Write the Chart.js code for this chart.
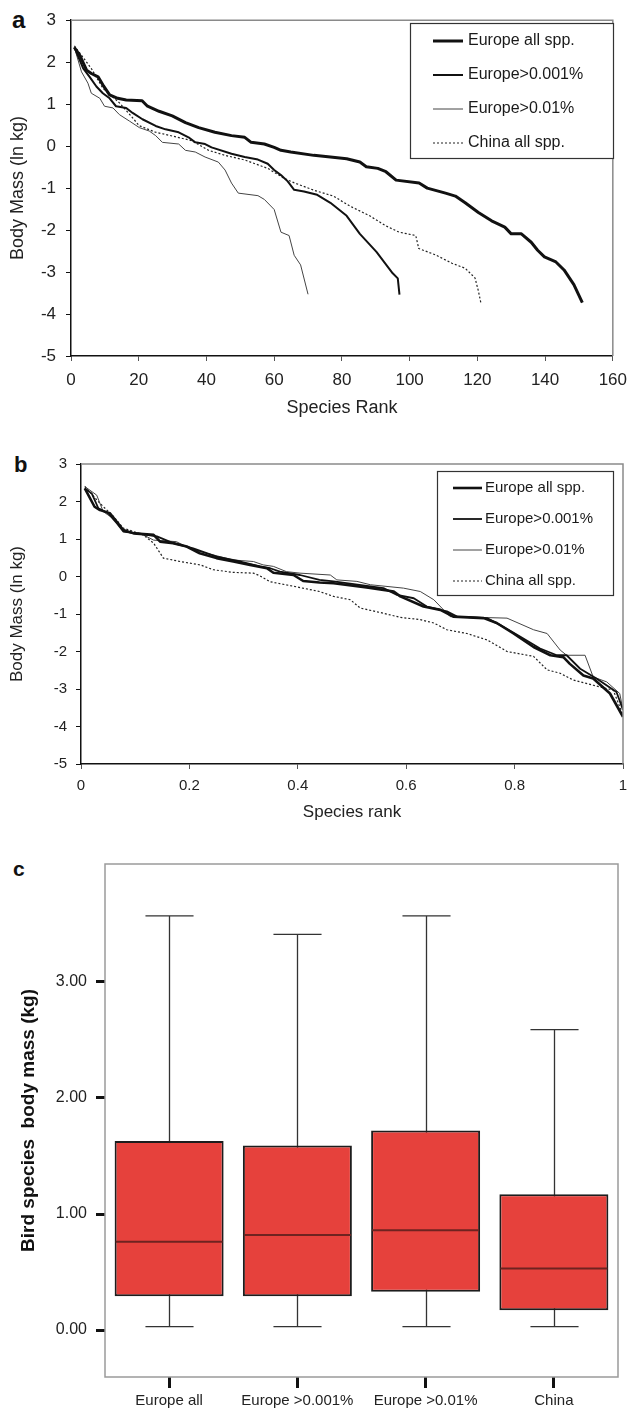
<!DOCTYPE html>
<html>
<head>
<meta charset="utf-8">
<script src="https://cdn.jsdelivr.net/npm/chart.js@4.4.1/dist/chart.umd.min.js"></script>
<style>
  html, body { margin: 0; padding: 0; background: #fff; }
  body { width: 636px; height: 1412px; position: relative; overflow: hidden; font-family: "Liberation Sans", Arial, sans-serif; }
  .pane { position: absolute; left: 0; width: 636px; }
  .letter { position: absolute; font-weight: bold; line-height: 1; color: #111; font-family: "Liberation Sans", Arial, sans-serif; }
</style>
</head>
<body>
<div class="letter" style="left:12px;top:8px;font-size:24px;">a</div>
<div class="letter" style="left:14px;top:454px;font-size:22px;">b</div>
<div class="letter" style="left:13px;top:858px;font-size:21px;">c</div>
<div class="pane" style="top:0;height:430px;"><canvas id="ca" width="636" height="430"></canvas></div>
<div class="pane" style="top:440px;height:390px;"><canvas id="cb" width="636" height="390"></canvas></div>
<div class="pane" style="top:840px;height:572px;"><canvas id="cc" width="636" height="572"></canvas></div>
<script>
// ---------- Panel a data (species rank vs ln body mass) ----------
const seriesNames = ["Europe all spp.", "Europe>0.001%", "Europe>0.01%", "China all spp."];

const aEuAllRank = [1, 2.6, 4.6, 6, 8, 9.4, 11.4, 13.8, 16.3, 21, 22.6, 26, 29.9, 33.8, 37.7, 42.5, 47.4, 51.3, 53.2, 57.1, 60, 62, 64.9, 71.7, 76.6, 81.4, 85.3, 87.2, 90.6, 93, 96, 102.8, 105.2, 110.6, 113.5, 116.4, 120.3, 124.2, 128.1, 130, 133, 135.9, 137.8, 139.8, 143.2, 145.6, 148.5, 151];
const aEuAllMass = [2.35, 2.16, 1.81, 1.73, 1.65, 1.46, 1.22, 1.14, 1.1, 1.08, 0.95, 0.83, 0.72, 0.56, 0.44, 0.33, 0.25, 0.21, 0.09, 0.05, -0.03, -0.10, -0.14, -0.22, -0.26, -0.30, -0.38, -0.49, -0.53, -0.61, -0.81, -0.88, -1.0, -1.12, -1.19, -1.35, -1.58, -1.78, -1.93, -2.09, -2.09, -2.29, -2.48, -2.64, -2.76, -2.95, -3.30, -3.73];

const aEu001Rank = [1, 3.6, 5.5, 7.5, 9.4, 11.4, 13.3, 16.3, 18.2, 21.1, 25, 27.9, 31.8, 34.7, 36.7, 39.6, 41.5, 47.4, 51.3, 55.2, 58.1, 60, 62, 64, 65.9, 68.8, 72.7, 76.6, 81.4, 85.3, 90.2, 95, 96.5, 97];
const aEu001Mass = [2.35, 1.85, 1.65, 1.42, 1.26, 1.14, 0.95, 0.91, 0.79, 0.64, 0.48, 0.40, 0.33, 0.21, 0.09, 0.05, -0.03, -0.18, -0.26, -0.32, -0.42, -0.57, -0.69, -0.84, -1.04, -1.08, -1.16, -1.35, -1.66, -2.09, -2.52, -3.03, -3.15, -3.54];

const aEu01Rank = [1, 3.1, 5, 6, 8.5, 9.9, 12.4, 14.3, 17.2, 20.2, 23.1, 25, 27, 31.8, 33.8, 36.7, 39.6, 43.5, 45.5, 47.4, 49.4, 55.2, 57.1, 60, 62, 64.4, 65.9, 67.8, 70];
const aEu01Mass = [2.35, 1.77, 1.5, 1.26, 1.14, 0.95, 0.91, 0.75, 0.6, 0.44, 0.36, 0.25, 0.09, 0.05, -0.1, -0.14, -0.26, -0.38, -0.57, -0.88, -1.12, -1.18, -1.27, -1.51, -2.05, -2.13, -2.6, -2.83, -3.53];

const aChinaRank = [1, 6, 9.4, 14.3, 17.7, 20.1, 25, 28.9, 35.7, 40.6, 45.5, 51.3, 58.1, 63, 65.8, 71.7, 77.5, 82.4, 88.2, 93, 96.9, 101.8, 102.7, 107.6, 112.5, 116.4, 119.3, 120.3, 121];
const aChinaMass = [2.39, 1.85, 1.38, 1.03, 0.72, 0.49, 0.33, 0.26, 0.13, -0.10, -0.22, -0.33, -0.53, -0.77, -0.87, -1.05, -1.19, -1.43, -1.66, -1.90, -2.05, -2.13, -2.44, -2.59, -2.79, -2.91, -3.14, -3.45, -3.72];

// ---------- Panel b data (relative species rank) ----------
const bEuAllRank = [0.007, 0.025, 0.035, 0.053, 0.066, 0.078, 0.097, 0.134, 0.146, 0.17, 0.195, 0.219, 0.25, 0.281, 0.312, 0.343, 0.355, 0.392, 0.41, 0.44, 0.466, 0.527, 0.577, 0.589, 0.632, 0.663, 0.687, 0.743, 0.767, 0.798, 0.835, 0.866, 0.89, 0.902, 0.927, 0.945, 0.976, 1.0];
const bEuAllMass = [2.35, 1.86, 1.77, 1.69, 1.46, 1.24, 1.15, 1.11, 0.93, 0.89, 0.80, 0.62, 0.49, 0.40, 0.31, 0.22, 0.10, 0.04, -0.12, -0.16, -0.18, -0.29, -0.40, -0.53, -0.80, -0.89, -1.07, -1.11, -1.24, -1.52, -1.88, -2.10, -2.15, -2.33, -2.64, -2.72, -3.12, -3.74];

const bEu001Rank = [0.007, 0.02, 0.032, 0.05, 0.066, 0.078, 0.109, 0.14, 0.17, 0.207, 0.25, 0.294, 0.33, 0.349, 0.367, 0.404, 0.44, 0.466, 0.558, 0.583, 0.614, 0.638, 0.675, 0.694, 0.749, 0.773, 0.81, 0.847, 0.878, 0.896, 0.921, 0.951, 0.988, 1.0];
const bEu001Mass = [2.35, 2.21, 1.82, 1.69, 1.42, 1.2, 1.14, 1.07, 0.89, 0.75, 0.53, 0.40, 0.27, 0.22, 0.13, 0.04, -0.09, -0.13, -0.31, -0.49, -0.58, -0.80, -0.93, -1.07, -1.11, -1.29, -1.6, -1.92, -2.1, -2.1, -2.46, -2.72, -3.08, -3.56];

const bEu01Rank = [0.007, 0.029, 0.041, 0.063, 0.078, 0.115, 0.134, 0.176, 0.2, 0.232, 0.281, 0.318, 0.336, 0.355, 0.379, 0.404, 0.46, 0.472, 0.509, 0.534, 0.595, 0.626, 0.651, 0.681, 0.786, 0.835, 0.86, 0.884, 0.896, 0.93, 0.945, 0.97, 0.994, 1.0];
const bEu01Mass = [2.4, 2.17, 1.73, 1.51, 1.2, 1.11, 0.97, 0.93, 0.75, 0.62, 0.44, 0.40, 0.31, 0.27, 0.13, 0.09, 0.04, -0.09, -0.13, -0.22, -0.31, -0.4, -0.62, -1.07, -1.11, -1.42, -1.52, -1.96, -2.1, -2.1, -2.68, -2.81, -3.12, -3.56];

const bChinaRank = [0.007, 0.035, 0.06, 0.078, 0.115, 0.134, 0.152, 0.183, 0.22, 0.244, 0.281, 0.318, 0.33, 0.349, 0.392, 0.44, 0.466, 0.497, 0.515, 0.558, 0.589, 0.626, 0.651, 0.675, 0.712, 0.749, 0.786, 0.835, 0.86, 0.884, 0.908, 0.945, 0.982, 1.0];
const bChinaMass = [2.4, 1.95, 1.6, 1.29, 1.11, 0.89, 0.49, 0.40, 0.31, 0.18, 0.11, 0.09, 0.02, -0.14, -0.26, -0.4, -0.53, -0.62, -0.84, -0.98, -1.09, -1.15, -1.24, -1.42, -1.52, -1.69, -2.0, -2.13, -2.49, -2.58, -2.76, -2.9, -3.03, -3.7];

// ---------- Panel c data (box plot, kg) ----------
const boxCategories = ["Europe all", "Europe >0.001%", "Europe >0.01%", "China"];
const boxLowWhisker = [0.03, 0.03, 0.03, 0.03];
const boxQ1 = [0.29, 0.29, 0.33, 0.17];
const boxMedian = [0.76, 0.82, 0.86, 0.53];
const boxQ3 = [1.63, 1.59, 1.72, 1.17];
const boxHighWhisker = [3.57, 3.41, 3.57, 2.59];
const boxTicks = [0, 1, 2, 3];

// ---------- helpers / plugins ----------
const FONT = '"Liberation Sans", Arial, sans-serif';
const pts = (xs, ys) => xs.map((x, i) => ({ x: x, y: ys[i] }));

const frameTR = {
  id: 'frameTR',
  afterDraw(chart, args, o) {
    const { ctx, chartArea: a } = chart;
    ctx.save();
    ctx.strokeStyle = o.color; ctx.lineWidth = o.width;
    ctx.beginPath();
    if (o.full) {
      ctx.strokeRect(a.left, a.top, a.right - a.left, a.bottom - a.top);
    } else {
      ctx.moveTo(a.left, a.top); ctx.lineTo(a.right, a.top); ctx.lineTo(a.right, a.bottom);
      ctx.stroke();
    }
    ctx.restore();
  }
};

const boxLegend = {
  id: 'boxLegend',
  afterDraw(chart, args, o) {
    if (!o || !o.show) return;
    const ctx = chart.ctx;
    ctx.save();
    ctx.fillStyle = '#fff';
    ctx.fillRect(o.x, o.y, o.w, o.h);
    ctx.strokeStyle = '#333'; ctx.lineWidth = 1.2;
    ctx.strokeRect(o.x + 0.5, o.y + 0.5, o.w, o.h);
    chart.data.datasets.forEach((ds, i) => {
      const y = o.y + o.first + i * o.gap;
      ctx.beginPath();
      ctx.setLineDash(ds.borderDash || []);
      ctx.lineWidth = ds.borderWidth; ctx.strokeStyle = ds.borderColor;
      ctx.moveTo(o.lx1, y); ctx.lineTo(o.lx2, y); ctx.stroke();
      ctx.setLineDash([]);
      ctx.fillStyle = '#1a1a1a'; ctx.font = o.font; ctx.textBaseline = 'middle'; ctx.textAlign = 'left';
      ctx.fillText(ds.label, o.tx, y);
    });
    ctx.restore();
  }
};

function lineDatasets(sets, widths) {
  const styles = [
    { c: '#111', w: widths[0], d: [] },
    { c: '#111', w: widths[1], d: [] },
    { c: '#444', w: widths[2], d: [] },
    { c: '#222', w: widths[3], d: [2, 2] }
  ];
  return sets.map((s, i) => ({
    label: seriesNames[i],
    data: s,
    borderColor: styles[i].c,
    borderWidth: styles[i].w,
    borderDash: styles[i].d,
    pointRadius: 0,
    tension: 0,
    fill: false,
    borderJoinStyle: 'round'
  }));
}

function lineOptions(cfg) {
  return {
    responsive: false,
    animation: false,
    devicePixelRatio: 1,
    layout: { padding: { top: cfg.padTop, right: cfg.padRight, left: 0, bottom: 0 } },
    plugins: {
      legend: { display: false },
      tooltip: { enabled: false },
      frameTR: { color: '#8a8a8a', width: 1.5, full: false },
      boxLegend: cfg.legend
    },
    scales: {
      x: {
        type: 'linear', min: cfg.xMin, max: cfg.xMax,
        afterFit: s => { s.height = cfg.xHeight; },
        ticks: { stepSize: cfg.xStep, color: '#222', font: { family: FONT, size: cfg.tickSize }, padding: cfg.xPad, maxRotation: 0, autoSkip: false,
                 callback: v => String(Math.round(v * 10) / 10) },
        grid: { drawOnChartArea: false, drawTicks: true, tickLength: 5, tickColor: '#555', tickWidth: 1 },
        border: { color: '#111', width: 1.5 },
        title: { display: true, text: cfg.xTitle, color: '#222', font: { family: FONT, size: cfg.titleSize }, padding: { top: 0, bottom: cfg.xTitlePad } }
      },
      y: {
        type: 'linear', min: -5, max: 3,
        afterFit: s => { s.width = cfg.yWidth; },
        ticks: { stepSize: 1, color: '#222', font: { family: FONT, size: cfg.tickSize }, padding: cfg.yPad },
        grid: { drawOnChartArea: false, drawTicks: true, tickLength: 5, tickColor: '#111', tickWidth: 1 },
        border: { color: '#111', width: 1.5 },
        title: { display: true, text: 'Body Mass (ln kg)', color: '#222', font: { family: FONT, size: cfg.titleSize }, padding: { top: cfg.yTitlePad, bottom: 0 } }
      }
    }
  };
}

// ---------- Panel a ----------
new Chart(document.getElementById('ca'), {
  type: 'line',
  data: {
    datasets: lineDatasets([
      pts(aEuAllRank, aEuAllMass),
      pts(aEu001Rank, aEu001Mass),
      pts(aEu01Rank, aEu01Mass),
      pts(aChinaRank, aChinaMass)
    ], [3, 2, 1, 1.2])
  },
  options: lineOptions({
    padTop: 14, padRight: 16, xHeight: 74, yWidth: 71,
    xMin: 0, xMax: 160, xStep: 20, tickSize: 17, titleSize: 18,
    xPad: 9, yPad: 10, xTitle: 'Species Rank', xTitlePad: 11, yTitlePad: 7,
    legend: { show: true, x: 410, y: 23, w: 203, h: 135, first: 18, gap: 34, lx1: 433, lx2: 463, tx: 468, font: '16px ' + FONT }
  }),
  plugins: [frameTR, boxLegend]
});

// ---------- Panel b ----------
new Chart(document.getElementById('cb'), {
  type: 'line',
  data: {
    datasets: lineDatasets([
      pts(bEuAllRank, bEuAllMass),
      pts(bEu001Rank, bEu001Mass),
      pts(bEu01Rank, bEu01Mass),
      pts(bChinaRank, bChinaMass)
    ], [2.6, 1.8, 1, 1.2])
  },
  options: lineOptions({
    padTop: 24, padRight: 13, xHeight: 66, yWidth: 81,
    xMin: 0, xMax: 1, xStep: 0.2, tickSize: 15, titleSize: 17,
    xPad: 8, yPad: 9, xTitle: 'Species rank', xTitlePad: 7, yTitlePad: 7,
    legend: { show: true, x: 437, y: 31, w: 176, h: 124, first: 17, gap: 31, lx1: 453, lx2: 482, tx: 485, font: '15px ' + FONT }
  }),
  plugins: [frameTR, boxLegend]
});

// ---------- Panel c (box plot) ----------
const whiskers = {
  id: 'whiskers',
  beforeDatasetsDraw(chart) {
    const { ctx, scales: { x, y } } = chart;
    const band = x.getPixelForValue(1) - x.getPixelForValue(0);
    const cap = band * 0.375;
    ctx.save();
    ctx.strokeStyle = '#333'; ctx.lineWidth = 1.3;
    boxCategories.forEach((c, i) => {
      const px = Math.round(x.getPixelForValue(i)) + 0.5;
      const yl = y.getPixelForValue(boxLowWhisker[i]);
      const yh = y.getPixelForValue(boxHighWhisker[i]);
      ctx.beginPath();
      ctx.moveTo(px, yh); ctx.lineTo(px, yl);
      ctx.moveTo(px - cap / 2, yh); ctx.lineTo(px + cap / 2, yh);
      ctx.moveTo(px - cap / 2, yl); ctx.lineTo(px + cap / 2, yl);
      ctx.stroke();
    });
    ctx.restore();
  },
  afterDatasetsDraw(chart) {
    const { ctx, scales: { y } } = chart;
    const meta = chart.getDatasetMeta(0);
    ctx.save();
    ctx.strokeStyle = '#6e2320'; ctx.lineWidth = 2;
    meta.data.forEach((bar, i) => {
      const py = y.getPixelForValue(boxMedian[i]);
      ctx.beginPath();
      ctx.moveTo(bar.x - bar.width / 2 + 1, py); ctx.lineTo(bar.x + bar.width / 2 - 1, py);
      ctx.stroke();
    });
    ctx.restore();
  }
};

new Chart(document.getElementById('cc'), {
  type: 'bar',
  data: {
    labels: boxCategories,
    datasets: [{
      label: 'Body mass',
      data: boxQ1.map((q, i) => [q, boxQ3[i]]),
      backgroundColor: '#e6413c',
      borderColor: '#1d1d1d',
      borderWidth: 2,
      borderSkipped: false,
      barPercentage: 0.85,
      categoryPercentage: 1
    }]
  },
  options: {
    responsive: false,
    animation: false,
    devicePixelRatio: 1,
    layout: { padding: { top: 24, right: 18, left: 0, bottom: 0 } },
    plugins: {
      legend: { display: false },
      tooltip: { enabled: false },
      frameTR: { color: '#9a9a9a', width: 1.5, full: true }
    },
    scales: {
      x: {
        type: 'category', offset: true,
        afterFit: s => { s.height = 35; },
        ticks: { color: '#222', font: { family: FONT, size: 15 }, padding: 4, maxRotation: 0, autoSkip: false },
        grid: { offset: false, drawOnChartArea: false, drawTicks: true, tickLength: 11, tickWidth: 3, tickColor: '#111' },
        border: { display: false }
      },
      y: {
        type: 'linear', min: -0.405, max: 4.017,
        afterFit: s => { s.width = 105; },
        afterBuildTicks: s => { s.ticks = boxTicks.map(v => ({ value: v })); },
        ticks: { color: '#222', font: { family: FONT, size: 16 }, padding: 9, callback: v => Number(v).toFixed(2) },
        grid: { drawOnChartArea: false, drawTicks: true, tickLength: 9, tickWidth: 3, tickColor: '#111' },
        border: { display: false },
        title: { display: true, text: 'Bird species  body mass (kg)', color: '#111', font: { family: FONT, size: 19, weight: 'bold' }, padding: { top: 17, bottom: 0 } }
      }
    }
  },
  plugins: [whiskers, frameTR]
});
</script>
</body>
</html>
